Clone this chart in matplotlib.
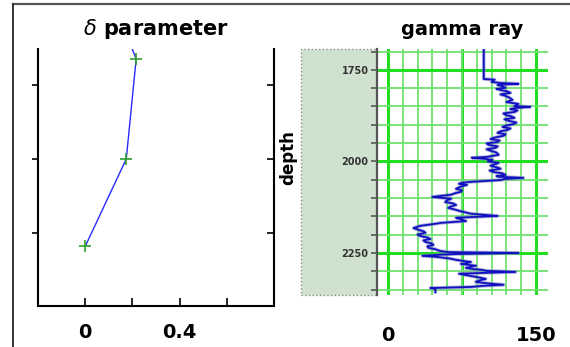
import numpy as np
import matplotlib
matplotlib.use("Agg")
from matplotlib import pyplot as plt
from matplotlib.patches import Rectangle
from matplotlib.lines import Line2D

# delta parameter against depth (first point sits above the visible window)
delta_vals = [0.166, 0.216, 0.174, 0.0]
delta_depth = [1650, 1730, 2000, 2236]
delta_marked = [False, True, True, True]

# gamma ray log (API units vs depth)
gr_depth = [1690, 1775, 1777, 1783, 1786, 1788, 1791, 1795, 1799, 1802,
            1805, 1809, 1813, 1817, 1821, 1826, 1832, 1838, 1843, 1849,
            1851, 1854, 1857, 1861, 1865, 1869, 1873, 1877, 1881, 1885,
            1889, 1894, 1898, 1902, 1906, 1910, 1914, 1918, 1922, 1926,
            1930, 1935, 1939, 1943, 1947, 1951, 1955, 1959, 1963, 1967,
            1971, 1976, 1982, 1988, 1990, 1993, 1996, 2000, 2004, 2008,
            2012, 2016, 2020, 2025, 2029, 2033, 2037, 2040, 2042, 2045,
            2048, 2051, 2054, 2056, 2058, 2061, 2064, 2067, 2071, 2075,
            2079, 2083, 2087, 2091, 2097, 2102, 2106, 2111, 2115, 2119,
            2123, 2127, 2131, 2135, 2139, 2143, 2149, 2154, 2158, 2163,
            2168, 2172, 2176, 2182, 2187, 2191, 2195, 2200, 2204, 2208,
            2212, 2216, 2220, 2224, 2228, 2232, 2236, 2240, 2245, 2248,
            2250, 2253, 2255, 2258, 2261, 2264, 2266, 2269, 2272, 2275,
            2278, 2280, 2283, 2285, 2288, 2291, 2294, 2296, 2299, 2302,
            2305, 2307, 2310, 2313, 2317, 2321, 2325, 2329, 2333, 2337,
            2340, 2343, 2346, 2348, 2357]
gr_vals = [97, 97, 108, 105, 114, 132, 111, 116, 119, 110,
           114, 121, 124, 114, 119, 123, 126, 120, 132, 128,
           144, 130, 124, 131, 128, 117, 119, 125, 128, 118,
           122, 130, 127, 120, 116, 124, 121, 114, 111, 119,
           117, 108, 104, 113, 111, 100, 102, 111, 109, 100,
           104, 110, 112, 100, 85, 98, 106, 101, 112, 108,
           104, 110, 114, 103, 107, 116, 119, 110, 112, 137,
           118, 114, 95, 84, 76, 72, 80, 76, 72, 69,
           75, 74, 68, 64, 45, 64, 60, 58, 66, 69,
           64, 61, 67, 72, 78, 84, 111, 69, 74, 79,
           54, 44, 33, 26, 31, 36, 38, 30, 33, 40,
           43, 36, 38, 44, 46, 40, 41, 48, 53, 62,
           132, 70, 53, 35, 50, 58, 64, 69, 76, 84,
           80, 74, 82, 89, 84, 79, 86, 94, 100, 129,
           92, 72, 78, 84, 92, 99, 93, 89, 100, 117,
           96, 84, 43, 48, 48]

delta_ticks = [0, 0.2, 0.4, 0.6]
delta_labels = ["0", "", "0.4", ""]
gr_ticks = [0, 150]
depth_major = [1750, 2000, 2250]

W, H = 570, 347
fig = plt.figure(figsize=(W / 100, H / 100), dpi=100)
fig.patch.set_facecolor("white")

def frac(x0, y0, x1, y1):
    # pixel box (top-left origin) -> figure fraction rect
    return [x0 / W, 1 - y1 / H, (x1 - x0) / W, (y1 - y0) / H]

# outer frame of the original screenshot
fig.add_artist(Line2D([13 / W, 1], [1 - 4 / H, 1 - 4 / H], color="#555555", lw=1.6))
fig.add_artist(Line2D([13 / W, 13 / W], [0, 1 - 4 / H], color="#333333", lw=1.4))

# ---- left panel: delta parameter
ax1 = fig.add_axes(frac(38, 49, 274, 306))
ax1.plot(delta_vals, delta_depth, color="#2a2aff", lw=1.0)
mx = [v for v, m in zip(delta_vals, delta_marked) if m]
my = [d for d, m in zip(delta_depth, delta_marked) if m]
ax1.plot(mx, my, "+", color="#2e9e2e", ms=8, mew=1.2)
ax1.set_xlim(-0.2, 0.8)
ax1.set_ylim(2397, 1703)
ax1.set_xticks(delta_ticks)
ax1.set_xticklabels(delta_labels, fontsize=14, fontweight="bold")
ax1.set_yticks([1800, 2000, 2200])
ax1.set_yticklabels([])
ax1.tick_params(axis="x", direction="in", length=6, width=1.2, pad=12)
ax1.tick_params(axis="y", direction="out", length=4, width=1.2, right=True)
ax1.spines["top"].set_visible(False)
for s in ["left", "right", "bottom"]:
    ax1.spines[s].set_linewidth(1.5)
ax1.set_title(r"$\delta$ parameter", fontsize=15, fontweight="bold", pad=10)
# right side ticks point inwards
for t in ax1.yaxis.get_major_ticks():
    t.tick2line.set_marker(0)
    t.tick2line.set_markersize(5)

# ---- right panel: gamma ray
shade = Rectangle((301 / W, 1 - 295 / H), 76 / W, 246 / H,
                  transform=fig.transFigure, facecolor="#cfe2cf",
                  edgecolor="#8a8a8a", lw=1, ls=":", zorder=-1)
fig.patches.append(shade)

ax2 = fig.add_axes(frac(377, 49, 548, 295))
ax2.set_zorder(1)
ax2.patch.set_facecolor("white")
ax2.set_xlim(-11, 162)
ax2.set_ylim(2365, 1693)
ax2.set_xticks(np.arange(0, 161, 15), minor=True)
ax2.set_xticks(gr_ticks)
ax2.set_xticklabels(["0", "150"], fontsize=14, fontweight="bold")
ax2.set_yticks(np.arange(1700, 2365, 50), minor=True)
ax2.set_yticks(depth_major)
ax2.set_yticklabels([str(d) for d in depth_major], fontsize=7,
                    fontweight="bold", color="#333333")
ax2.grid(which="minor", color="#70e070", lw=1.3)
ax2.grid(which="major", color="#22dd22", lw=2.2)
ax2.axvline(75, color="#22dd22", lw=2.2, zorder=0.5)
ax2.set_axisbelow(True)
ax2.plot(gr_vals, gr_depth, color="#8080c8", lw=2.6, alpha=0.6)
ax2.plot(gr_vals, gr_depth, color="#1010c0", lw=1.3)
for s in ["top", "right", "bottom"]:
    ax2.spines[s].set_visible(False)
ax2.spines["left"].set_color("#555555")
ax2.spines["left"].set_linewidth(1.6)
ax2.tick_params(axis="x", which="both", length=0, pad=22)
ax2.tick_params(axis="y", which="both", direction="out", length=4,
                width=1.2, color="#555555", pad=2)
ax2.set_title("gamma ray", fontsize=14, fontweight="bold", pad=10)

fig.text(288 / W, 1 - 158 / H, "depth", rotation=90, fontsize=12,
         fontweight="bold", ha="center", va="center")

fig.savefig("out.png", dpi=100)
